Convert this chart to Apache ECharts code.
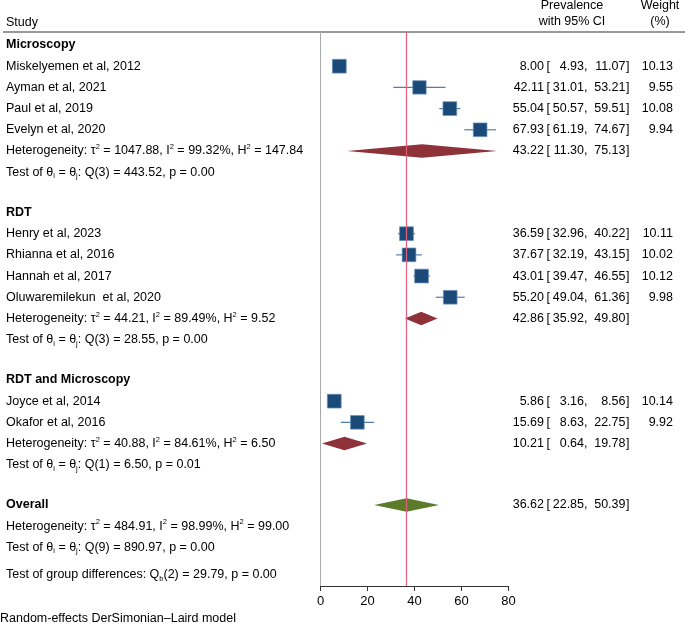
<!DOCTYPE html>
<html>
<head>
<meta charset="utf-8">
<script src="https://cdn.jsdelivr.net/npm/echarts@6/dist/echarts.min.js"></script>
<style>
  html, body { margin: 0; padding: 0; background: #fff; }
  #chart { width: 685px; height: 624px; }
</style>
</head>
<body>
<div id="chart"></div>
<script>
// --- data ---
const groupNames = ['Microscopy', 'RDT', 'RDT and Microscopy'];
const studyNames = [
  'Miskelyemen et al, 2012', 'Ayman et al, 2021', 'Paul et al, 2019', 'Evelyn et al, 2020',
  'Henry et al, 2023', 'Rhianna et al, 2016', 'Hannah et al, 2017', 'Oluwaremilekun  et al, 2020',
  'Joyce et al, 2014', 'Okafor et al, 2016'
];
const studyGroup = [0, 0, 0, 0, 1, 1, 1, 1, 2, 2];
const studyEst = [8.00, 42.11, 55.04, 67.93, 36.59, 37.67, 43.01, 55.20, 5.86, 15.69];
const studyLower = [4.93, 31.01, 50.57, 61.19, 32.96, 32.19, 39.47, 49.04, 3.16, 8.63];
const studyUpper = [11.07, 53.21, 59.51, 74.67, 40.22, 43.15, 46.55, 61.36, 8.56, 22.75];
const studyWeight = [10.13, 9.55, 10.08, 9.94, 10.11, 10.02, 10.12, 9.98, 10.14, 9.92];

const groupEst = [43.22, 42.86, 10.21];
const groupLower = [11.30, 35.92, 0.64];
const groupUpper = [75.13, 49.80, 19.78];
const groupTau2 = ['1047.88', '44.21', '40.88'];
const groupI2 = ['99.32', '89.49', '84.61'];
const groupH2 = ['147.84', '9.52', '6.50'];
const groupQ = ['443.52', '28.55', '6.50'];
const groupDf = [3, 3, 1];
const groupP = ['0.00', '0.00', '0.01'];

const overallEst = 36.62, overallLower = 22.85, overallUpper = 50.39;
const overallStats = { tau2: '484.91', i2: '98.99', h2: '99.00', q: '890.97', df: 9, p: '0.00' };
const groupDiff = { q: '29.79', df: 2, p: '0.00' };

const xTicks = [0, 20, 40, 60, 80];

// --- layout helpers ---
const FONT = '"Liberation Sans", Arial, Helvetica, sans-serif';
const FS = 12.5;
const GROUP_GAP = 1.9;
const rich = {
  sup: { fontSize: 7.5, lineHeight: 8, verticalAlign: 'top', fontFamily: FONT },
  sub: { fontSize: 7.5, lineHeight: 8, verticalAlign: 'bottom', fontFamily: FONT }
};
const hetText = (t, i, h) =>
  `Heterogeneity: τ{sup|2} = ${t}, I{sup|2} = ${i}%, H{sup|2} = ${h}`;
const testText = (df, q, p) =>
  `Test of θ{sub|i} = θ{sub|j}: Q(${df}) = ${q}, p = ${p}`;

// build rows top to bottom
const labelRows = [];   // [pos, text, bold]
const studyRows = [];   // [est, pos, lo, hi, w]
const diamondRows = []; // [est, pos, lo, hi, isOverall]
const numberRows = [];  // [pos, est, lo, hi, weight]
let pos = 0;
groupNames.forEach((g, gi) => {
  if (gi > 0) pos += GROUP_GAP;
  labelRows.push([pos, g, 1]);
  studyNames.forEach((s, i) => {
    if (studyGroup[i] !== gi) return;
    pos += 1;
    labelRows.push([pos, s, 0]);
    studyRows.push([studyEst[i], pos, studyLower[i], studyUpper[i], studyWeight[i]]);
    numberRows.push([pos, studyEst[i], studyLower[i], studyUpper[i], studyWeight[i]]);
  });
  pos += 1;
  labelRows.push([pos, hetText(groupTau2[gi], groupI2[gi], groupH2[gi]), 0]);
  diamondRows.push([groupEst[gi], pos, groupLower[gi], groupUpper[gi], 0]);
  numberRows.push([pos, groupEst[gi], groupLower[gi], groupUpper[gi], null]);
  pos += 1;
  labelRows.push([pos, testText(groupDf[gi], groupQ[gi], groupP[gi]), 0]);
});
pos += GROUP_GAP;
labelRows.push([pos, 'Overall', 1]);
diamondRows.push([overallEst, pos, overallLower, overallUpper, 1]);
numberRows.push([pos, overallEst, overallLower, overallUpper, null]);
pos += 1;
labelRows.push([pos, hetText(overallStats.tau2, overallStats.i2, overallStats.h2), 0]);
pos += 1;
labelRows.push([pos, testText(overallStats.df, overallStats.q, overallStats.p), 0]);
pos += 1.3;
labelRows.push([pos, `Test of group differences: Q{sub|b}(${groupDiff.df}) = ${groupDiff.q}, p = ${groupDiff.p}`, 0]);

const chart = echarts.init(document.getElementById('chart'), null, { renderer: 'canvas' });

const textEl = (x, y, text, align, extra) => ({
  type: 'text',
  x, y,
  style: Object.assign({
    text, fill: '#000', fontFamily: FONT, fontSize: FS,
    align, verticalAlign: 'middle', lineHeight: 16, rich
  }, extra || {})
});

chart.setOption({
  animation: false,
  backgroundColor: '#fff',
  grid: { left: 320.5, right: 176.5, top: 32, bottom: 38 },
  xAxis: {
    type: 'value', position: 'bottom', min: xTicks[0], max: xTicks[xTicks.length - 1], interval: 20,
    axisLine: { onZero: false, lineStyle: { color: '#333', width: 1 } },
    axisTick: { show: true, length: 5, lineStyle: { color: '#333' } },
    axisLabel: { color: '#000', fontFamily: FONT, fontSize: 13, margin: 9 },
    splitLine: { show: false }
  },
  yAxis: {
    type: 'value', inverse: true, min: -0.613, max: 25.52,
    axisLine: { show: true, onZero: false, lineStyle: { color: '#a8a8a8', width: 1 } },
    axisTick: { show: false }, axisLabel: { show: false }, splitLine: { show: false }
  },
  graphic: [
    { type: 'line', shape: { x1: 3, y1: 32, x2: 685, y2: 32 }, style: { stroke: '#333', lineWidth: 1 } },
    textEl(6, 22.5, 'Study', 'left'),
    textEl(572, 6, 'Prevalence', 'center'),
    textEl(572, 22, 'with 95% CI', 'center'),
    textEl(660, 6, 'Weight', 'center'),
    textEl(660, 22, '(%)', 'center'),
    textEl(0, 619, 'Random-effects DerSimonian\u2013Laird model', 'left')
  ],
  series: [
    {
      // left column labels
      type: 'custom', data: labelRows, clip: false, silent: true,
      encode: { x: -1, y: 0 },
      renderItem: (params, api) => {
        const r = labelRows[params.dataIndex];
        const y = api.coord([0, r[0]])[1];
        return textEl(6, y, r[1], 'left', { fontWeight: r[2] ? 'bold' : 'normal' });
      }
    },
    {
      // right column numbers
      type: 'custom', data: numberRows, clip: false, silent: true,
      encode: { x: -1, y: 0 },
      renderItem: (params, api) => {
        const r = numberRows[params.dataIndex];
        const y = api.coord([0, r[0]])[1];
        const children = [
          textEl(544, y, r[1].toFixed(2), 'right'),
          textEl(546.5, y, '[', 'left'),
          textEl(587.5, y, r[2].toFixed(2) + ',', 'right'),
          textEl(625.5, y, r[3].toFixed(2), 'right'),
          textEl(626, y, ']', 'left')
        ];
        if (r[4] != null) children.push(textEl(673, y, r[4].toFixed(2), 'right'));
        return { type: 'group', children };
      }
    },
    {
      // study squares with CI
      type: 'custom', data: studyRows, clip: false, silent: true,
      encode: { x: 0, y: 1 },
      renderItem: (params, api) => {
        const c = api.coord([api.value(0), api.value(1)]);
        const lo = api.coord([api.value(2), api.value(1)]);
        const hi = api.coord([api.value(3), api.value(1)]);
        const s = 13.8 * Math.sqrt(api.value(4) / 10.13);
        return {
          type: 'group',
          children: [
            { type: 'line', shape: { x1: lo[0], y1: c[1], x2: hi[0], y2: c[1] },
              style: { stroke: '#4f7eae', lineWidth: 1.2 } },
            { type: 'rect', shape: { x: c[0] - s / 2, y: c[1] - s / 2, width: s, height: s },
              style: { fill: '#1c4a78', stroke: '#6790bb', lineWidth: 0.7 } }
          ]
        };
      }
    },
    {
      // pooled diamonds
      type: 'custom', data: diamondRows, clip: false, silent: true,
      encode: { x: 0, y: 1 },
      renderItem: (params, api) => {
        const c = api.coord([api.value(0), api.value(1)]);
        const lo = api.coord([api.value(2), api.value(1)]);
        const hi = api.coord([api.value(3), api.value(1)]);
        const h = 13.5;
        return {
          type: 'polygon',
          shape: { points: [[lo[0], c[1]], [c[0], c[1] - h / 2], [hi[0], c[1]], [c[0], c[1] + h / 2]] },
          style: { fill: api.value(4) ? '#5b7a2a' : '#8e3139' }
        };
      }
    },
    {
      // overall effect reference line
      type: 'custom', data: [], z: 5,
      renderItem: () => null,
      markLine: {
        silent: true, symbol: 'none', animation: false,
        label: { show: false },
        lineStyle: { color: '#e2607e', width: 1.2, type: 'solid' },
        data: [{ xAxis: overallEst }]
      }
    }
  ]
});
</script>
</body>
</html>
